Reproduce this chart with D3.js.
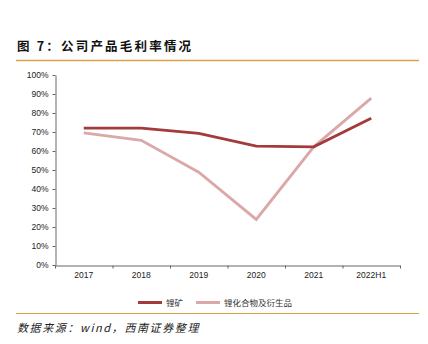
<!DOCTYPE html>
<html><head><meta charset="utf-8">
<script src="https://cdn.jsdelivr.net/npm/d3@7"></script>
<style>body{margin:0;background:#fff}svg{display:block}</style>
</head><body>
<script>
const categories = ["2017","2018","2019","2020","2021","2022H1"];
const oreValues = [72.0, 72.0, 69.3, 62.6, 62.2, 77.2];
const compoundValues = [69.5, 65.6, 48.8, 24.0, 62.2, 87.8];
const yTicks = [0,10,20,30,40,50,60,70,80,90,100];
const seriesNames = ["锂矿","锂化合物及衍生品"];
const seriesColors = ["#a33b3b","#dba8a8"];

const W=428,H=344;
const svg=d3.select("body").append("svg").attr("width",W).attr("height",H);
const cjk="'Noto Sans CJK SC', sans-serif";
const lat="'Liberation Sans', Arial, sans-serif";

svg.append("text").attr("x",17).attr("y",51).attr("font-family",cjk).attr("font-weight","bold")
  .attr("font-size",12.5).attr("letter-spacing",2.2).attr("fill","#111").text("图 7：公司产品毛利率情况");
svg.append("line").attr("x1",16).attr("x2",419).attr("y1",60.5).attr("y2",60.5).attr("stroke","#d9a24e").attr("stroke-width",1.5);
svg.append("line").attr("x1",16).attr("x2",419).attr("y1",313.5).attr("y2",313.5).attr("stroke","#d9a24e").attr("stroke-width",1);

const x=d3.scaleBand().domain(categories).range([55,400]);
const y=d3.scaleLinear().domain([0,100]).range([265,75]);

const gy=svg.append("g").attr("transform","translate(55.5,0)")
  .call(d3.axisLeft(y).tickValues(yTicks).tickFormat(d=>d+"%").tickSize(3).tickSizeOuter(0));
gy.select(".domain").attr("stroke","#666");
gy.selectAll(".tick line").attr("stroke","#666");
gy.selectAll("text").attr("font-family",lat).attr("font-size",8.5).attr("fill","#222").attr("dx","-1");

const gx=svg.append("g").attr("transform","translate(0,265.5)")
  .call(d3.axisBottom(x).tickSize(0).tickSizeOuter(0));
gx.select(".domain").attr("stroke","#666");
gx.selectAll("text").attr("font-family",lat).attr("font-size",8.5).attr("fill","#222").attr("dy","1.1em");
gx.selectAll(".bt").data(categories.concat(["end"])).enter().append("line")
  .attr("x1",(d,i)=>55+x.step()*i+0.5).attr("x2",(d,i)=>55+x.step()*i+0.5)
  .attr("y1",0).attr("y2",3).attr("stroke","#666");

const line=d3.line().x((d,i)=>x(categories[i])+x.bandwidth()/2).y(d=>y(d));
[compoundValues, oreValues].forEach((vals,k)=>{
  const idx = k===0?1:0;
  svg.append("path").datum(vals).attr("d",line).attr("fill","none")
    .attr("stroke",seriesColors[idx]).attr("stroke-width",2.8);
});

const leg=[{x:138},{x:196}];
seriesNames.forEach((n,i)=>{
  svg.append("line").attr("x1",leg[i].x).attr("x2",leg[i].x+24).attr("y1",302.5).attr("y2",302.5)
    .attr("stroke",seriesColors[i]).attr("stroke-width",3);
  svg.append("text").attr("x",leg[i].x+28).attr("y",306).attr("font-family",cjk).attr("font-size",8.5)
    .attr("fill","#333").text(n);
});

svg.append("text").attr("x",17).attr("y",332).attr("font-family",cjk).attr("font-style","italic")
  .attr("font-size",11).attr("letter-spacing",1.6).attr("fill","#222").text("数据来源：wind，西南证券整理");
</script>
</body></html>
